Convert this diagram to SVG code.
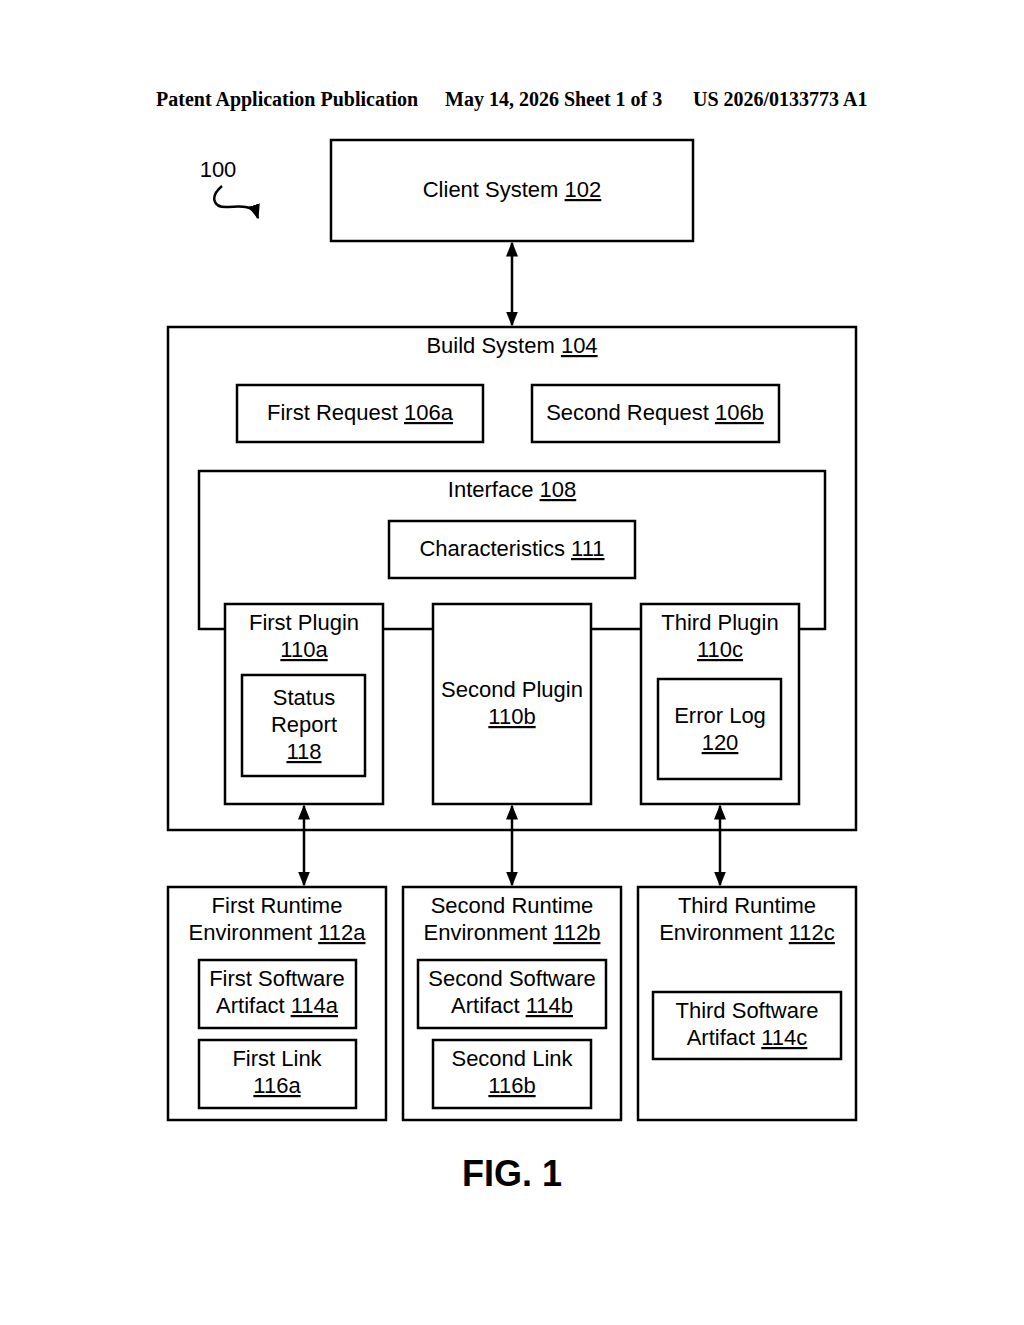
<svg xmlns="http://www.w3.org/2000/svg" width="1024" height="1325" viewBox="0 0 1024 1325">
<style>
.b{fill:#fff;stroke:#000;stroke-width:2.5}
.t{font-family:"Liberation Sans",Arial,sans-serif;font-size:22px;text-anchor:middle;fill:#000}
.u{text-decoration:underline}
.l{stroke:#000;stroke-width:2.5;fill:none}
.h{font-family:"Liberation Serif",serif;font-size:20px;font-weight:bold}
</style>
<defs>
<marker id="a" viewBox="0 0 10 10" refX="9" refY="5" markerWidth="6" markerHeight="6" orient="auto-start-reverse"><path d="M0,1 L10,5 L0,9 z" fill="#000"/></marker>
</defs>
<rect width="1024" height="1325" fill="#fff"/>
<text class="h" x="156" y="106">Patent Application Publication</text>
<text class="h" x="445" y="106">May 14, 2026  Sheet 1 of 3</text>
<text class="h" x="693" y="106">US 2026/0133773 A1</text>
<g id="label100">
<text class="t" x="218" y="177">100</text>
<path class="l" d="M222,186 C210,196 212,208 228,207 C242,206 254,205 258,218" stroke-width="2" marker-end="url(#a)"/>
</g>
<g id="client"><rect class="b" x="331" y="140" width="362" height="101"/><text class="t" x="512" y="197">Client System <tspan class="u">102</tspan></text></g>
<g id="build"><rect class="b" x="168" y="327" width="688" height="503"/><text class="t" x="512" y="353">Build System <tspan class="u">104</tspan></text></g>
<g id="req1"><rect class="b" x="237" y="385" width="246" height="57"/><text class="t" x="360" y="420">First Request <tspan class="u">106a</tspan></text></g>
<g id="req2"><rect class="b" x="532" y="385" width="247" height="57"/><text class="t" x="655" y="420">Second Request <tspan class="u">106b</tspan></text></g>
<g id="interface"><path class="l" d="M225,629 H199 V471 H825 V629 H799 M383,629 H433 M591,629 H641"/><text class="t" x="512" y="497">Interface <tspan class="u">108</tspan></text></g>
<g id="char"><rect class="b" x="389" y="521" width="246" height="57"/><text class="t" x="512" y="556">Characteristics <tspan class="u">111</tspan></text></g>
<g id="plugin1"><rect class="b" x="225" y="604" width="158" height="200"/><text class="t" x="304" y="630">First Plugin</text><text class="t u" x="304" y="657">110a</text></g>
<g id="status"><rect class="b" x="242" y="675" width="123" height="101"/><text class="t" x="304" y="705">Status</text><text class="t" x="304" y="732">Report</text><text class="t u" x="304" y="759">118</text></g>
<g id="plugin2"><rect class="b" x="433" y="604" width="158" height="200"/><text class="t" x="512" y="697">Second Plugin</text><text class="t u" x="512" y="724">110b</text></g>
<g id="plugin3"><rect class="b" x="641" y="604" width="158" height="200"/><text class="t" x="720" y="630">Third Plugin</text><text class="t u" x="720" y="657">110c</text></g>
<g id="errlog"><rect class="b" x="658" y="679" width="123" height="100"/><text class="t" x="720" y="723">Error Log</text><text class="t u" x="720" y="750">120</text></g>
<g id="rt1"><rect class="b" x="168" y="887" width="218" height="233"/><text class="t" x="277" y="913">First Runtime</text><text class="t" x="277" y="940">Environment <tspan class="u">112a</tspan></text></g>
<g id="sa1"><rect class="b" x="199" y="960" width="157" height="68"/><text class="t" x="277" y="986">First Software</text><text class="t" x="277" y="1013">Artifact <tspan class="u">114a</tspan></text></g>
<g id="link1"><rect class="b" x="199" y="1040" width="157" height="68"/><text class="t" x="277" y="1066">First Link</text><text class="t u" x="277" y="1093">116a</text></g>
<g id="rt2"><rect class="b" x="403" y="887" width="218" height="233"/><text class="t" x="512" y="913">Second Runtime</text><text class="t" x="512" y="940">Environment <tspan class="u">112b</tspan></text></g>
<g id="sa2"><rect class="b" x="418" y="960" width="188" height="68"/><text class="t" x="512" y="986">Second Software</text><text class="t" x="512" y="1013">Artifact <tspan class="u">114b</tspan></text></g>
<g id="link2"><rect class="b" x="433" y="1040" width="158" height="68"/><text class="t" x="512" y="1066">Second Link</text><text class="t u" x="512" y="1093">116b</text></g>
<g id="rt3"><rect class="b" x="638" y="887" width="218" height="233"/><text class="t" x="747" y="913">Third Runtime</text><text class="t" x="747" y="940">Environment <tspan class="u">112c</tspan></text></g>
<g id="sa3"><rect class="b" x="653" y="992" width="188" height="67"/><text class="t" x="747" y="1018">Third Software</text><text class="t" x="747" y="1045">Artifact <tspan class="u">114c</tspan></text></g>
<g id="connectors">
<line class="l" x1="512" y1="243" x2="512" y2="325" marker-start="url(#a)" marker-end="url(#a)"/>
<line class="l" x1="304" y1="806" x2="304" y2="885" marker-start="url(#a)" marker-end="url(#a)"/>
<line class="l" x1="512" y1="806" x2="512" y2="885" marker-start="url(#a)" marker-end="url(#a)"/>
<line class="l" x1="720" y1="806" x2="720" y2="885" marker-start="url(#a)" marker-end="url(#a)"/>
</g>
<text x="512" y="1186" font-family="Liberation Sans,Arial,sans-serif" font-size="36" font-weight="bold" text-anchor="middle">FIG. 1</text>
</svg>
